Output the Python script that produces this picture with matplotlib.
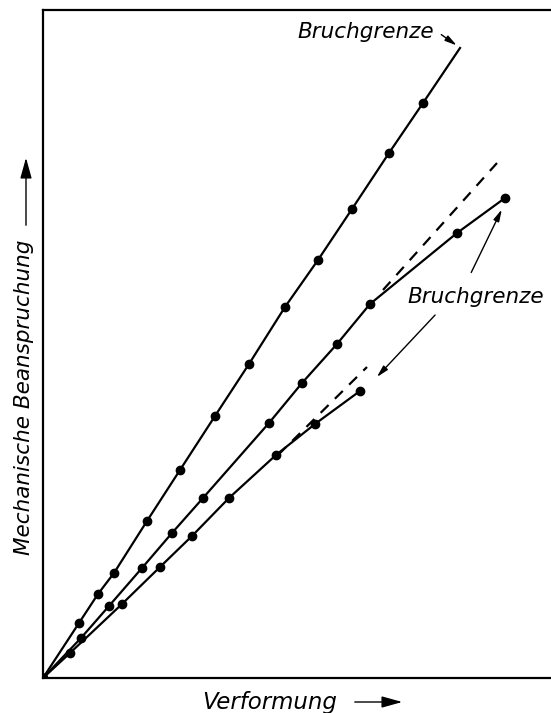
import matplotlib
matplotlib.use('Agg')
import matplotlib.pyplot as plt
from matplotlib.patches import FancyArrowPatch

# Werte in willkuerlichen Einheiten
x_steil = [0, 0.72, 1.10, 1.42, 2.08, 2.74, 3.44, 4.12, 4.84, 5.50, 6.18, 6.92, 7.60]
y_steil = [0, 1.10, 1.68, 2.10, 3.14, 4.16, 5.24, 6.28, 7.42, 8.36, 9.38, 10.50, 11.50]
x_steil_ende = [7.60, 8.34]
y_steil_ende = [11.50, 12.60]

x_mitte = [0, 0.76, 1.32, 1.98, 2.58, 3.20, 4.52, 5.18, 5.88, 6.54, 8.28, 9.24]
y_mitte = [0, 0.80, 1.44, 2.20, 2.90, 3.60, 5.10, 5.90, 6.68, 7.48, 8.90, 9.60]

x_unten = [0, 0.54, 1.58, 2.34, 2.98, 3.72, 4.66, 5.44, 6.34]
y_unten = [0, 0.50, 1.48, 2.22, 2.84, 3.60, 4.46, 5.08, 5.74]

# gestrichelte Verlaengerung der Anfangsgeraden
x_mitte_dash = [6.80, 9.08]
y_mitte_dash = [7.76, 10.30]
x_unten_dash = [4.70, 6.48]
y_unten_dash = [4.46, 6.22]

fig = plt.figure(figsize=(5.51, 7.13), dpi=100)
ax = fig.add_axes([43 / 551, 35 / 713, 1 - 43 / 551, 668 / 713])

lw = 1.6
ms = 6
ax.plot(x_steil, y_steil, 'k-', lw=lw, marker='o', ms=ms)
ax.plot(x_steil_ende, y_steil_ende, 'k-', lw=lw)
ax.plot(x_mitte, y_mitte, 'k-', lw=lw, marker='o', ms=ms)
ax.plot(x_unten, y_unten, 'k-', lw=lw, marker='o', ms=ms)
ax.plot(x_mitte_dash, y_mitte_dash, 'k--', lw=lw, dashes=(5, 4))
ax.plot(x_unten_dash, y_unten_dash, 'k--', lw=lw, dashes=(5, 4))

ax.set_xlim(0, 10.16)
ax.set_ylim(0, 13.36)
ax.set_xticks([])
ax.set_yticks([])
ax.spines['right'].set_visible(False)
for s in ['left', 'top', 'bottom']:
    ax.spines[s].set_linewidth(1.6)

txt = dict(fontsize=15.5, style='italic', color='k')
arr = dict(arrowstyle='-|>,head_length=0.7,head_width=0.18', color='k', lw=1.0)

# Beschriftungen Bruchgrenze
ax.text(6.46, 12.92, 'Bruchgrenze', ha='center', va='center', **txt)
ax.annotate('', xy=(8.32, 12.62), xytext=(7.92, 12.90), arrowprops=arr)
ax.text(8.66, 7.62, 'Bruchgrenze', ha='center', va='center', **txt)
ax.annotate('', xy=(9.20, 9.42), xytext=(8.54, 8.06), arrowprops=arr)
ax.annotate('', xy=(6.64, 5.98), xytext=(7.88, 7.30), arrowprops=arr)

# Achsenbeschriftungen mit Pfeilen
fig.text(270 / 551, 1 - 702 / 713, 'Verformung', ha='center', va='center',
         fontsize=16.5, style='italic')
fig.text(24 / 551, 1 - 397 / 713, 'Mechanische Beanspruchung', ha='center', va='center',
         rotation=90, **txt)
fig.add_artist(FancyArrowPatch((352, 713 - 702), (405, 713 - 702), transform=None,
                               arrowstyle='-|>,head_length=0.9,head_width=0.25',
                               mutation_scale=14, color='k', lw=1.0))
fig.add_artist(FancyArrowPatch((26, 713 - 228), (26, 713 - 155), transform=None,
                               arrowstyle='-|>,head_length=0.9,head_width=0.25',
                               mutation_scale=14, color='k', lw=1.0))

plt.savefig('out.png', dpi=100)
